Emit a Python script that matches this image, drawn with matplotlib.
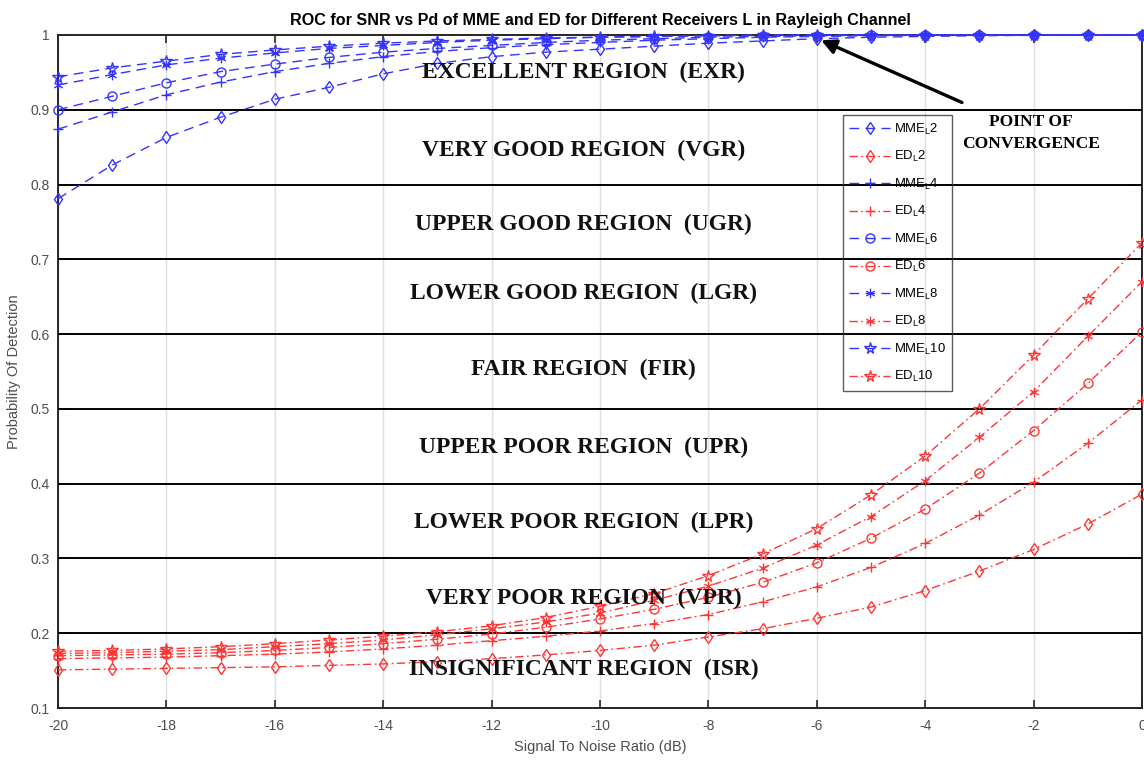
"""
Detection probability versus SNR for the MME and ED detectors with
L = 2..10 receivers over a Rayleigh channel, split into quality regions.
"""

import matplotlib
matplotlib.use("Agg")
import matplotlib.pyplot as plt
from matplotlib.path import Path

matplotlib.rcParams.update({
    'font.family': ['Liberation Sans', 'DejaVu Sans'],
    'mathtext.default': 'regular',
    'axes.unicode_minus': False,
    'axes.linewidth': 1.4,
    'axes.edgecolor': '#262626',
    'xtick.color': '#262626',
    'ytick.color': '#262626',
    'xtick.labelcolor': '#4d4d4d',
    'ytick.labelcolor': '#4d4d4d',
    'xtick.labelsize': 10,
    'ytick.labelsize': 10,
})

SNR_DB = list(range(-20, 1))

# MME detector, one list per receiver count
MME_L2 = [0.781, 0.826, 0.863, 0.890, 0.914, 0.930, 0.948, 0.962, 0.971, 0.977,
          0.981, 0.985, 0.989, 0.992, 0.995, 0.997, 0.998, 0.999, 0.9995, 1.0, 1.0]
MME_L4 = [0.874, 0.897, 0.920, 0.937, 0.951, 0.962, 0.971, 0.978, 0.983, 0.987,
          0.990, 0.993, 0.995, 0.997, 0.998, 0.999, 0.9995, 1.0, 1.0, 1.0, 1.0]
MME_L6 = [0.900, 0.918, 0.936, 0.951, 0.961, 0.970, 0.977, 0.982, 0.986, 0.990,
          0.993, 0.995, 0.997, 0.998, 0.999, 0.9995, 1.0, 1.0, 1.0, 1.0, 1.0]
MME_L8 = [0.933, 0.947, 0.960, 0.969, 0.976, 0.982, 0.986, 0.990, 0.993, 0.995,
          0.997, 0.998, 0.999, 0.9995, 1.0, 1.0, 1.0, 1.0, 1.0, 1.0, 1.0]
MME_L10 = [0.944, 0.956, 0.965, 0.974, 0.980, 0.985, 0.989, 0.992, 0.994, 0.996,
           0.997, 0.998, 0.999, 1.0, 1.0, 1.0, 1.0, 1.0, 1.0, 1.0, 1.0]

# Energy detector
ED_L2 = [0.151, 0.152, 0.153, 0.154, 0.155, 0.157, 0.159, 0.162, 0.166, 0.171,
         0.177, 0.184, 0.195, 0.206, 0.220, 0.235, 0.257, 0.283, 0.312, 0.346, 0.386]
ED_L4 = [0.166, 0.167, 0.168, 0.170, 0.172, 0.175, 0.179, 0.184, 0.190, 0.196,
         0.203, 0.213, 0.225, 0.242, 0.262, 0.288, 0.320, 0.358, 0.402, 0.454, 0.512]
ED_L6 = [0.170, 0.171, 0.172, 0.174, 0.177, 0.181, 0.186, 0.192, 0.199, 0.208,
         0.219, 0.232, 0.248, 0.268, 0.294, 0.327, 0.366, 0.414, 0.471, 0.534, 0.603]
ED_L8 = [0.173, 0.174, 0.176, 0.178, 0.182, 0.186, 0.191, 0.198, 0.206, 0.215,
         0.227, 0.244, 0.263, 0.287, 0.318, 0.356, 0.404, 0.462, 0.523, 0.597, 0.670]
ED_L10 = [0.176, 0.177, 0.179, 0.182, 0.186, 0.191, 0.196, 0.202, 0.210, 0.221,
          0.236, 0.253, 0.277, 0.306, 0.340, 0.385, 0.437, 0.500, 0.572, 0.647, 0.722]

RECEIVERS = [2, 4, 6, 8, 10]
REGION_BOUNDS = [0.2, 0.3, 0.4, 0.5, 0.6, 0.7, 0.8, 0.9]
REGION_NAMES = [
    "INSIGNIFICANT REGION  (ISR)",
    "VERY POOR REGION  (VPR)",
    "LOWER POOR REGION  (LPR)",
    "UPPER POOR REGION  (UPR)",
    "FAIR REGION  (FIR)",
    "LOWER GOOD REGION  (LGR)",
    "UPPER GOOD REGION  (UGR)",
    "VERY GOOD REGION  (VGR)",
    "EXCELLENT REGION  (EXR)",
]
REGION_LABEL_Y = [0.151, 0.247, 0.348, 0.449, 0.553, 0.654, 0.746, 0.845, 0.9505]

# MATLAB style six-armed asterisk
ASTERISK = Path(
    [(0, 1), (0, -1), (0.866, 0.5), (-0.866, -0.5), (0.866, -0.5), (-0.866, 0.5)],
    [Path.MOVETO, Path.LINETO] * 3,
)

BLUE = "#3434ff"
RED = "#ff3636"
SERIF = ["Liberation Serif", "DejaVu Serif"]

# marker and marker size per receiver count
MARKERS = {2: ("d", 6.2), 4: ("+", 7.5), 6: ("o", 6.5), 8: (ASTERISK, 7.0), 10: ("*", 8.5)}


def build_plot():
    fig = plt.figure(figsize=(11.44, 7.6), dpi=100)
    ax = fig.add_axes([0.0507, 0.0684, 0.9475, 0.8856])

    mme = dict(zip(RECEIVERS, [MME_L2, MME_L4, MME_L6, MME_L8, MME_L10]))
    ed = dict(zip(RECEIVERS, [ED_L2, ED_L4, ED_L6, ED_L8, ED_L10]))

    for L in RECEIVERS:
        marker, ms = MARKERS[L]
        ax.plot(SNR_DB, mme[L], color=BLUE, lw=1.0, dashes=(7, 4.5),
                marker=marker, ms=ms, mfc="none", mec=BLUE, mew=1.0,
                clip_on=False, zorder=4, label=f"MME$_L${L}")
        ax.plot(SNR_DB, ed[L], color=RED, lw=1.0, dashes=(6, 2.5, 1.2, 2.5),
                marker=marker, ms=ms, mfc="none", mec=RED, mew=1.0,
                clip_on=False, zorder=4, label=f"ED$_L${L}")

    # quality region separators and their names
    for yb in REGION_BOUNDS:
        ax.axhline(yb, color="black", lw=1.4, zorder=3)
    for name, yl in zip(REGION_NAMES, REGION_LABEL_Y):
        ax.text(-10.3, yl, name, ha="center", va="center", fontsize=16.9,
                fontweight="bold", family=SERIF, color="#111111", zorder=6)

    ax.annotate("POINT OF\nCONVERGENCE", xy=(-5.92, 0.993), xytext=(-2.05, 0.869),
                ha="center", va="center", fontsize=12.6, fontweight="bold",
                family=SERIF, linespacing=1.45,
                arrowprops=dict(arrowstyle="-|>", color="black", lw=2.4,
                                shrinkA=16, shrinkB=0, mutation_scale=22),
                zorder=7)

    ax.set_xlim(-20, 0)
    ax.set_ylim(0.1, 1.0)
    ax.set_xticks(range(-20, 1, 2))
    ax.set_yticks([0.1, 0.2, 0.3, 0.4, 0.5, 0.6, 0.7, 0.8, 0.9, 1.0])
    ax.set_yticklabels(["0.1", "0.2", "0.3", "0.4", "0.5", "0.6", "0.7", "0.8", "0.9", "1"])
    ax.tick_params(direction="in", length=6, width=1.2, top=True, right=True)
    ax.tick_params(axis="x", pad=8)
    ax.tick_params(axis="y", pad=6)
    ax.grid(axis="x", color="#dedede", lw=1.0, zorder=0)
    ax.set_axisbelow(True)

    ax.set_xlabel("Signal To Noise Ratio (dB)", fontsize=10.5, color="#4d4d4d", labelpad=5)
    ax.set_ylabel("Probability Of Detection", fontsize=10.5, color="#4d4d4d", labelpad=7)
    ax.set_title("ROC for SNR vs Pd of MME and ED for Different Receivers L in Rayleigh Channel",
                 fontsize=11.6, fontweight="bold", pad=7)

    leg = ax.legend(loc="upper left", bbox_to_anchor=(0.724, 0.881), borderaxespad=0,
                    fontsize=9.4, handlelength=3.1, handletextpad=0.3, labelspacing=0.95,
                    borderpad=0.5, fancybox=False, numpoints=1)
    frame = leg.get_frame()
    frame.set_facecolor("none")
    frame.set_edgecolor("#333333")
    frame.set_linewidth(1.0)
    leg.set_zorder(8)

    fig.savefig("out.png", dpi=100)
    plt.close(fig)


if __name__ == "__main__":
    build_plot()
